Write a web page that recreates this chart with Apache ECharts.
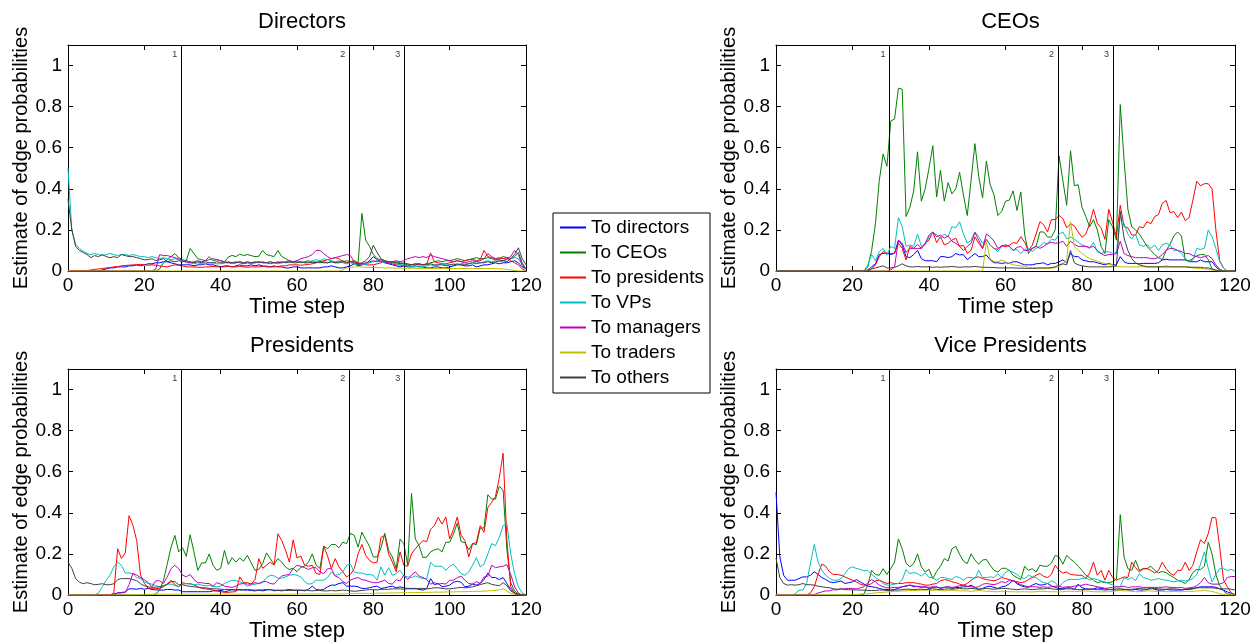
<!DOCTYPE html>
<html>
<head>
<meta charset="utf-8">
<script src="https://cdn.jsdelivr.net/npm/echarts@6/dist/echarts.min.js"></script>
<style>
  html, body { margin: 0; padding: 0; background: #fff; }
  #chart { width: 1258px; height: 644px; }
</style>
</head>
<body>
<div id="chart"></div>
<script>
// ---- data: one value per time step, t = 0..120 ----
const seriesNames = ['To directors', 'To CEOs', 'To presidents', 'To VPs', 'To managers', 'To traders', 'To others'];
const panelTitles = ['Directors', 'CEOs', 'Presidents', 'Vice Presidents'];
const xTicks = [0, 20, 40, 60, 80, 100, 120];
const eventSteps = [29.7, 73.7, 88.1];
const eventLabels = ['1', '2', '3'];

// Directors
const dirBlue = [0,0,0,0,0,0,0,0,0,0.005,
  0.01,0.015,0.015,0.02,0.02,0.02,0.025,0.025,0.03,0.025,
  0.03,0.035,0.035,0.04,0.04,0.045,0.045,0.04,0.035,0.03,
  0.03,0.03,0.03,0.025,0.03,0.03,0.035,0.03,0.03,0.025,
  0.02,0.025,0.025,0.02,0.025,0.03,0.025,0.025,0.03,0.025,
  0.03,0.025,0.02,0.02,0.025,0.02,0.02,0.015,0.015,0.02,
  0.02,0.015,0.015,0.015,0.015,0.015,0.015,0.02,0.02,0.025,
  0.02,0.015,0.015,0.02,0.025,0.035,0.025,0.03,0.035,0.05,
  0.07,0.055,0.045,0.04,0.035,0.03,0.025,0.02,0.025,0.02,
  0.02,0.025,0.02,0.02,0.015,0.015,0.02,0.02,0.015,0.015,
  0.02,0.025,0.03,0.03,0.025,0.025,0.03,0.02,0.025,0.03,
  0.03,0.035,0.04,0.035,0.04,0.04,0.045,0.05,0.04,0.02,
  0.01];
const dirGreen = [0,0,0,0,0,0,0,0,0,0,
  0,0,0,0,0,0,0,0,0,0,
  0,0,0,0,0.01,0.04,0.055,0.07,0.085,0.065,
  0.055,0.05,0.11,0.085,0.06,0.055,0.05,0.07,0.05,0.055,
  0.05,0.045,0.068,0.076,0.07,0.082,0.075,0.08,0.075,0.07,
  0.072,0.1,0.08,0.075,0.07,0.1,0.07,0.06,0.05,0.045,
  0.045,0.04,0.045,0.05,0.04,0.045,0.04,0.045,0.04,0.045,
  0.04,0.045,0.05,0.04,0.045,0.05,0.035,0.28,0.15,0.12,
  0.08,0.06,0.055,0.05,0.045,0.04,0.045,0.04,0.035,0.03,
  0.03,0.035,0.035,0.03,0.035,0.04,0.045,0.05,0.045,0.05,
  0.05,0.055,0.06,0.055,0.05,0.055,0.06,0.065,0.06,0.06,
  0.065,0.06,0.055,0.06,0.07,0.065,0.06,0.07,0.09,0.04,
  0.01];
const dirRed = [0,0,0,0,0,0.002,0.005,0.008,0.01,0.012,
  0.015,0.017,0.02,0.022,0.025,0.027,0.028,0.03,0.03,0.032,
  0.03,0.028,0.03,0.028,0.025,0.022,0.02,0.025,0.03,0.028,
  0.025,0.02,0.02,0.02,0.018,0.018,0.02,0.02,0.022,0.02,
  0.02,0.02,0.022,0.02,0.02,0.022,0.02,0.018,0.02,0.02,
  0.02,0.022,0.025,0.02,0.02,0.022,0.025,0.025,0.03,0.03,
  0.03,0.028,0.03,0.032,0.035,0.04,0.045,0.05,0.055,0.06,
  0.065,0.06,0.045,0.04,0.045,0.05,0.04,0.035,0.03,0.03,
  0.03,0.035,0.04,0.045,0.04,0.035,0.03,0.03,0.025,0.025,
  0.03,0.035,0.03,0.03,0.035,0.088,0.045,0.04,0.035,0.035,
  0.04,0.045,0.05,0.045,0.05,0.055,0.057,0.05,0.055,0.1,
  0.07,0.065,0.06,0.065,0.06,0.065,0.05,0.04,0.03,0.01,
  0];
const dirCyan = [0.5,0.2,0.13,0.11,0.095,0.085,0.08,0.085,0.08,0.075,
  0.08,0.085,0.08,0.075,0.08,0.08,0.075,0.08,0.075,0.07,
  0.07,0.065,0.07,0.065,0.06,0.065,0.06,0.055,0.06,0.055,
  0.05,0.04,0.04,0.035,0.04,0.035,0.035,0.04,0.04,0.035,
  0.035,0.04,0.04,0.035,0.04,0.045,0.04,0.04,0.035,0.04,
  0.045,0.04,0.04,0.045,0.04,0.035,0.04,0.045,0.04,0.045,
  0.05,0.045,0.04,0.045,0.05,0.055,0.05,0.06,0.055,0.05,
  0.045,0.05,0.04,0.035,0.04,0.035,0.03,0.035,0.03,0.04,
  0.045,0.05,0.045,0.04,0.045,0.04,0.035,0.03,0.03,0.025,
  0.02,0.02,0.025,0.02,0.025,0.03,0.025,0.03,0.035,0.03,
  0.03,0.035,0.03,0.035,0.04,0.035,0.04,0.045,0.04,0.045,
  0.05,0.045,0.05,0.045,0.05,0.055,0.06,0.065,0.06,0.03,
  0.01];
const dirMagenta = [0,0,0,0,0,0,0,0,0,0,
  0,0,0,0,0,0,0,0,0,0,
  0,0,0,0.01,0.08,0.075,0.075,0.07,0.065,0.06,
  0.05,0.045,0.04,0.045,0.05,0.045,0.05,0.055,0.06,0.055,
  0.05,0.045,0.04,0.04,0.045,0.04,0.035,0.04,0.04,0.045,
  0.04,0.045,0.04,0.035,0.04,0.045,0.04,0.045,0.05,0.045,
  0.05,0.06,0.065,0.07,0.08,0.1,0.1,0.085,0.07,0.06,
  0.065,0.07,0.075,0.08,0.075,0.045,0.03,0.035,0.04,0.045,
  0.05,0.045,0.05,0.045,0.04,0.045,0.05,0.045,0.05,0.06,
  0.065,0.07,0.065,0.07,0.065,0.077,0.07,0.065,0.06,0.055,
  0.05,0.045,0.05,0.045,0.04,0.045,0.05,0.045,0.05,0.06,
  0.085,0.07,0.06,0.055,0.05,0.06,0.07,0.1,0.08,0.03,
  0.01];
const dirYellow = [0,0,0,0,0,0,0,0,0,0,
  0,0,0,0,0,0,0,0,0,0,
  0,0,0,0,0,0,0,0,0,0,
  0,0,0,0,0,0,0,0,0,0,
  0,0,0,0,0,0,0,0,0,0,
  0,0,0,0,0,0,0,0,0,0,
  0,0,0,0,0,0,0,0,0,0,
  0,0,0.005,0.015,0.018,0.02,0.02,0.02,0.018,0.018,
  0.017,0.017,0.016,0.015,0.015,0.015,0.014,0.014,0.014,0.013,
  0.013,0.013,0.012,0.012,0.012,0.012,0.012,0.012,0.012,0.012,
  0.012,0.012,0.012,0.012,0.012,0.012,0.012,0.012,0.012,0.012,
  0.012,0.012,0.012,0.01,0.01,0.008,0.005,0.002,0,0,
  0];
const dirBlack = [0.35,0.2,0.12,0.1,0.09,0.08,0.065,0.075,0.07,0.08,
  0.07,0.065,0.07,0.065,0.08,0.075,0.07,0.07,0.065,0.06,
  0.055,0.055,0.06,0.05,0.055,0.06,0.045,0.05,0.045,0.05,
  0.045,0.05,0.045,0.04,0.045,0.04,0.045,0.04,0.04,0.045,
  0.04,0.04,0.045,0.04,0.04,0.045,0.04,0.045,0.04,0.04,
  0.045,0.04,0.04,0.045,0.04,0.04,0.045,0.04,0.045,0.04,
  0.04,0.045,0.04,0.04,0.045,0.04,0.045,0.04,0.04,0.045,
  0.04,0.04,0.045,0.05,0.045,0.04,0.035,0.04,0.05,0.07,
  0.125,0.09,0.06,0.05,0.045,0.045,0.04,0.035,0.04,0.035,
  0.03,0.03,0.035,0.03,0.03,0.035,0.03,0.03,0.03,0.025,
  0.03,0.03,0.035,0.03,0.03,0.035,0.04,0.035,0.04,0.04,
  0.045,0.04,0.045,0.05,0.05,0.045,0.06,0.08,0.113,0.06,
  0.03];

// CEOs
const ceoBlue = [0,0,0,0,0,0,0,0,0,0,
  0,0,0,0,0,0,0,0,0,0,
  0,0,0,0,0.005,0.02,0.035,0.08,0.086,0.086,
  0.08,0.086,0.15,0.125,0.07,0.065,0.08,0.1,0.06,0.05,
  0.05,0.05,0.045,0.07,0.07,0.065,0.07,0.085,0.078,0.08,
  0.055,0.07,0.085,0.07,0.07,0.078,0.054,0.04,0.04,0.037,
  0.04,0.037,0.045,0.045,0.037,0.03,0.03,0.03,0.035,0.037,
  0.04,0.03,0.037,0.037,0.045,0.054,0.04,0.086,0.07,0.07,
  0.054,0.05,0.045,0.045,0.04,0.035,0.03,0.037,0.03,0.03,
  0.07,0.045,0.037,0.037,0.037,0.035,0.037,0.037,0.037,0.037,
  0.04,0.054,0.057,0.054,0.054,0.054,0.054,0.054,0.045,0.045,
  0.045,0.054,0.045,0.045,0.045,0.02,0.005,0,0,0,
  0];
const ceoGreen = [0,0,0,0,0,0,0,0,0,0,
  0,0,0,0,0,0,0,0,0,0,
  0,0,0,0,0.02,0.1,0.23,0.44,0.57,0.51,
  0.73,0.74,0.89,0.885,0.265,0.31,0.39,0.58,0.34,0.4,
  0.5,0.61,0.36,0.49,0.34,0.43,0.375,0.4,0.48,0.37,
  0.27,0.44,0.62,0.46,0.355,0.535,0.42,0.37,0.27,0.29,
  0.34,0.345,0.39,0.295,0.385,0.18,0.085,0.11,0.12,0.19,
  0.19,0.165,0.165,0.2,0.56,0.44,0.32,0.585,0.415,0.42,
  0.31,0.265,0.215,0.25,0.2,0.12,0.085,0.25,0.215,0.15,
  0.81,0.54,0.3,0.215,0.2,0.18,0.15,0.12,0.1,0.08,
  0.065,0.055,0.1,0.13,0.17,0.19,0.17,0.055,0.05,0.06,
  0.075,0.08,0.08,0.055,0.01,0,0,0,0,0,
  0];
const ceoRed = [0,0,0,0,0,0,0,0,0,0,
  0,0,0,0,0,0,0,0,0,0,
  0,0,0,0,0,0.01,0.03,0.07,0.095,0.087,
  0.085,0.087,0.135,0.11,0.054,0.12,0.11,0.13,0.11,0.135,
  0.15,0.19,0.138,0.167,0.127,0.135,0.15,0.16,0.12,0.125,
  0.086,0.1,0.166,0.135,0.11,0.155,0.125,0.11,0.105,0.125,
  0.118,0.125,0.138,0.135,0.167,0.14,0.1,0.125,0.18,0.24,
  0.225,0.19,0.25,0.25,0.27,0.255,0.21,0.23,0.22,0.19,
  0.164,0.18,0.23,0.3,0.232,0.21,0.154,0.3,0.236,0.167,
  0.32,0.216,0.21,0.175,0.175,0.216,0.21,0.24,0.23,0.265,
  0.275,0.33,0.343,0.284,0.289,0.26,0.287,0.245,0.26,0.346,
  0.437,0.415,0.425,0.425,0.4,0.2,0.05,0.015,0,0,
  0];
const ceoCyan = [0,0,0,0,0,0,0,0,0,0,
  0,0,0,0,0,0,0,0,0,0,
  0,0,0,0,0.03,0.08,0.05,0.094,0.11,0.077,
  0.12,0.11,0.26,0.216,0.12,0.127,0.12,0.18,0.12,0.127,
  0.164,0.187,0.176,0.16,0.18,0.167,0.216,0.21,0.24,0.18,
  0.135,0.15,0.19,0.167,0.135,0.155,0.125,0.11,0.095,0.12,
  0.127,0.12,0.1,0.105,0.085,0.105,0.11,0.095,0.11,0.12,
  0.138,0.13,0.155,0.15,0.18,0.19,0.157,0.165,0.155,0.14,
  0.127,0.12,0.11,0.14,0.094,0.085,0.094,0.094,0.086,0.09,
  0.27,0.23,0.18,0.155,0.18,0.127,0.12,0.13,0.11,0.127,
  0.1,0.127,0.135,0.127,0.1,0.1,0.086,0.06,0.045,0.054,
  0.11,0.105,0.11,0.2,0.167,0.11,0.045,0.015,0,0,
  0];
const ceoMagenta = [0,0,0,0,0,0,0,0,0,0,
  0,0,0,0,0,0,0,0,0,0,
  0,0,0,0,0,0,0,0,0,0,
  0.005,0.02,0.15,0.135,0.09,0.11,0.11,0.11,0.11,0.135,
  0.175,0.19,0.167,0.175,0.16,0.17,0.145,0.135,0.12,0.1,
  0.12,0.135,0.187,0.15,0.11,0.18,0.167,0.145,0.11,0.12,
  0.127,0.12,0.1,0.115,0.12,0.1,0.1,0.11,0.12,0.11,
  0.12,0.135,0.14,0.135,0.137,0.145,0.12,0.145,0.13,0.12,
  0.12,0.12,0.115,0.12,0.1,0.085,0.075,0.08,0.08,0.085,
  0.145,0.085,0.075,0.07,0.065,0.065,0.065,0.065,0.06,0.06,
  0.065,0.08,0.1,0.11,0.11,0.1,0.095,0.085,0.085,0.075,
  0.07,0.065,0.07,0.075,0.06,0.03,0.01,0,0,0,
  0];
const ceoYellow = [0,0,0,0,0,0,0,0,0,0,
  0,0,0,0,0,0,0,0,0,0,
  0,0,0,0,0,0,0,0,0,0,
  0,0,0,0,0,0,0,0,0,0,
  0,0,0,0,0,0,0,0,0,0,
  0,0,0,0,0,0.14,0.06,0.045,0.045,0.054,
  0.045,0.037,0.03,0.027,0.025,0.022,0.017,0.015,0.015,0.014,
  0.013,0.013,0.013,0.017,0.021,0.035,0.054,0.24,0.12,0.1,
  0.086,0.072,0.06,0.054,0.048,0.04,0.037,0.033,0.03,0.021,
  0.021,0.02,0.02,0.02,0.02,0.021,0.021,0.021,0.021,0.021,
  0.021,0.022,0.025,0.022,0.021,0.021,0.021,0.021,0.021,0.015,
  0.013,0.013,0.01,0.008,0.005,0.002,0,0,0,0,
  0];
const ceoBlack = [0,0,0,0,0,0,0,0,0,0,
  0,0,0,0,0,0,0,0,0,0,
  0,0,0,0,0,0.01,0.015,0.02,0.025,0.015,
  0.015,0.018,0.025,0.035,0.025,0.02,0.02,0.022,0.02,0.02,
  0.02,0.018,0.02,0.018,0.02,0.02,0.022,0.02,0.018,0.02,
  0.02,0.02,0.022,0.02,0.018,0.018,0.017,0.017,0.015,0.015,
  0.015,0.015,0.015,0.014,0.014,0.013,0.013,0.013,0.013,0.015,
  0.015,0.015,0.017,0.02,0.03,0.035,0.03,0.1,0.04,0.03,
  0.025,0.022,0.02,0.02,0.02,0.02,0.02,0.02,0.022,0.025,
  0.29,0.16,0.1,0.06,0.04,0.03,0.025,0.02,0.02,0.02,
  0.02,0.02,0.02,0.02,0.02,0.02,0.02,0.02,0.018,0.018,
  0.018,0.018,0.015,0.015,0.01,0.005,0,0,0,0,
  0];

// Presidents
const presBlue = [0,0,0,0,0,0,0,0,0,0,
  0,0,0.005,0.01,0.012,0.015,0.03,0.03,0.028,0.032,
  0.028,0.032,0.027,0.025,0.024,0.024,0.027,0.027,0.024,0.024,
  0.016,0.016,0.016,0.016,0.016,0.016,0.016,0.016,0.02,0.02,
  0.024,0.016,0.02,0.027,0.024,0.027,0.024,0.024,0.022,0.02,
  0.024,0.02,0.024,0.027,0.02,0.024,0.02,0.024,0.027,0.024,
  0.024,0.024,0.02,0.027,0.043,0.027,0.024,0.027,0.04,0.048,
  0.048,0.056,0.06,0.043,0.043,0.043,0.04,0.032,0.032,0.035,
  0.04,0.043,0.032,0.035,0.04,0.043,0.035,0.04,0.035,0.032,
  0.032,0.032,0.027,0.024,0.032,0.08,0.05,0.056,0.04,0.043,
  0.048,0.062,0.067,0.062,0.04,0.043,0.053,0.048,0.056,0.075,
  0.107,0.085,0.085,0.075,0.085,0.056,0.027,0.01,0.003,0,
  0];
const presGreen = [0,0,0,0,0,0,0,0,0,0,
  0,0,0,0,0,0,0,0,0,0,
  0,0,0,0.005,0.025,0.07,0.15,0.233,0.29,0.21,
  0.23,0.188,0.293,0.21,0.12,0.156,0.156,0.2,0.145,0.12,
  0.13,0.217,0.149,0.182,0.16,0.18,0.165,0.193,0.156,0.12,
  0.125,0.153,0.205,0.177,0.15,0.177,0.16,0.136,0.124,0.13,
  0.113,0.135,0.14,0.16,0.2,0.145,0.13,0.237,0.225,0.246,
  0.246,0.23,0.257,0.25,0.3,0.29,0.233,0.306,0.27,0.237,
  0.185,0.185,0.23,0.3,0.217,0.185,0.128,0.272,0.25,0.145,
  0.494,0.273,0.24,0.182,0.185,0.21,0.22,0.225,0.21,0.257,
  0.257,0.297,0.35,0.26,0.255,0.22,0.25,0.245,0.326,0.326,
  0.488,0.467,0.467,0.53,0.51,0.22,0.06,0.02,0.005,0,
  0];
const presRed = [0,0,0,0,0,0,0,0,0,0,
  0,0,0.01,0.225,0.178,0.205,0.386,0.34,0.265,0.097,
  0.057,0.033,0.03,0.03,0.033,0.04,0.053,0.072,0.05,0.04,
  0.06,0.055,0.055,0.05,0.04,0.033,0.03,0.027,0.024,0.02,
  0.016,0.013,0.013,0.015,0.016,0.088,0.06,0.06,0.053,0.075,
  0.177,0.13,0.145,0.16,0.145,0.298,0.265,0.217,0.16,0.268,
  0.18,0.19,0.145,0.14,0.145,0.105,0.1,0.237,0.19,0.128,
  0.177,0.137,0.113,0.088,0.1,0.128,0.2,0.246,0.193,0.168,
  0.156,0.16,0.28,0.29,0.2,0.16,0.113,0.21,0.145,0.14,
  0.2,0.225,0.245,0.265,0.26,0.32,0.338,0.378,0.345,0.38,
  0.273,0.32,0.38,0.29,0.265,0.185,0.25,0.255,0.337,0.305,
  0.426,0.45,0.48,0.57,0.69,0.265,0.04,0.01,0,0,
  0];
const presCyan = [0,0,0,0,0,0,0,0,0.01,0.04,
  0.072,0.096,0.137,0.16,0.145,0.107,0.107,0.104,0.085,0.08,
  0.065,0.056,0.053,0.045,0.04,0.043,0.053,0.053,0.046,0.04,
  0.053,0.056,0.053,0.05,0.053,0.048,0.045,0.046,0.043,0.04,
  0.043,0.056,0.065,0.072,0.069,0.065,0.056,0.043,0.048,0.053,
  0.056,0.06,0.085,0.096,0.093,0.082,0.082,0.088,0.096,0.1,
  0.096,0.088,0.065,0.053,0.056,0.072,0.072,0.072,0.085,0.112,
  0.096,0.1,0.112,0.145,0.15,0.112,0.107,0.107,0.1,0.1,
  0.096,0.072,0.137,0.096,0.133,0.096,0.104,0.12,0.093,0.088,
  0.085,0.093,0.085,0.08,0.08,0.16,0.14,0.14,0.14,0.12,
  0.14,0.15,0.128,0.104,0.096,0.112,0.145,0.182,0.137,0.15,
  0.2,0.25,0.24,0.281,0.338,0.346,0.2,0.104,0.04,0.01,
  0];
const presMagenta = [0,0,0,0,0,0,0,0,0,0,
  0,0,0,0.01,0.01,0.012,0.05,0.105,0.097,0.085,
  0.075,0.06,0.04,0.069,0.069,0.056,0.088,0.128,0.145,0.128,
  0.097,0.088,0.1,0.075,0.06,0.06,0.056,0.056,0.043,0.06,
  0.053,0.043,0.04,0.037,0.043,0.053,0.056,0.053,0.053,0.06,
  0.056,0.065,0.065,0.056,0.053,0.075,0.092,0.097,0.1,0.128,
  0.145,0.14,0.133,0.124,0.133,0.133,0.112,0.104,0.128,0.128,
  0.092,0.085,0.065,0.056,0.072,0.08,0.085,0.075,0.072,0.065,
  0.06,0.06,0.065,0.072,0.056,0.053,0.075,0.068,0.097,0.075,
  0.097,0.113,0.092,0.085,0.075,0.053,0.06,0.053,0.056,0.053,
  0.072,0.072,0.085,0.092,0.072,0.056,0.053,0.065,0.056,0.088,
  0.092,0.145,0.133,0.137,0.14,0.148,0.1,0.04,0.01,0,
  0];
const presYellow = [0,0,0,0,0,0,0,0,0,0,
  0,0,0,0,0,0,0,0,0,0,
  0.002,0.003,0.003,0.003,0.004,0.004,0.004,0.004,0.004,0.004,
  0.004,0.004,0.004,0.004,0.004,0.004,0.004,0.004,0.004,0.004,
  0.004,0.004,0.004,0.004,0.004,0.004,0.004,0.004,0.004,0.004,
  0.004,0.004,0.004,0.004,0.004,0.004,0.004,0.004,0.004,0.004,
  0.005,0.005,0.005,0.005,0.005,0.005,0.005,0.005,0.005,0.005,
  0.005,0.005,0.006,0.006,0.007,0.007,0.008,0.008,0.008,0.008,
  0.008,0.009,0.009,0.009,0.01,0.01,0.01,0.011,0.011,0.011,
  0.012,0.012,0.012,0.013,0.013,0.013,0.014,0.014,0.014,0.015,
  0.015,0.015,0.016,0.016,0.016,0.017,0.017,0.018,0.018,0.019,
  0.02,0.022,0.022,0.025,0.03,0.02,0.008,0.002,0,0,
  0];
const presBlack = [0.16,0.13,0.08,0.062,0.055,0.06,0.055,0.05,0.052,0.055,
  0.05,0.05,0.055,0.075,0.08,0.08,0.08,0.075,0.07,0.055,
  0.045,0.04,0.037,0.038,0.04,0.045,0.052,0.065,0.065,0.05,
  0.05,0.045,0.042,0.04,0.038,0.035,0.035,0.032,0.03,0.03,
  0.028,0.027,0.027,0.025,0.025,0.024,0.025,0.027,0.025,0.024,
  0.024,0.025,0.027,0.025,0.024,0.022,0.024,0.022,0.022,0.022,
  0.022,0.022,0.024,0.022,0.02,0.022,0.022,0.02,0.02,0.022,
  0.02,0.022,0.024,0.022,0.02,0.018,0.02,0.022,0.024,0.026,
  0.026,0.025,0.027,0.028,0.028,0.03,0.03,0.03,0.028,0.03,
  0.03,0.03,0.032,0.032,0.03,0.032,0.035,0.035,0.032,0.03,
  0.03,0.032,0.035,0.037,0.035,0.037,0.04,0.045,0.05,0.056,
  0.06,0.052,0.048,0.045,0.06,0.045,0.02,0.008,0.002,0,
  0];

// Vice Presidents
const vpBlue = [0.5,0.186,0.096,0.072,0.072,0.072,0.08,0.088,0.088,0.096,
  0.113,0.1,0.085,0.075,0.064,0.06,0.064,0.068,0.056,0.06,
  0.064,0.075,0.064,0.053,0.043,0.04,0.037,0.032,0.027,0.027,
  0.024,0.027,0.032,0.04,0.043,0.048,0.04,0.043,0.037,0.04,
  0.032,0.037,0.04,0.032,0.037,0.04,0.032,0.037,0.037,0.04,
  0.04,0.048,0.037,0.027,0.032,0.04,0.043,0.037,0.032,0.04,
  0.043,0.055,0.072,0.055,0.045,0.04,0.037,0.048,0.056,0.048,
  0.05,0.056,0.045,0.037,0.032,0.03,0.035,0.035,0.027,0.053,
  0.035,0.03,0.027,0.03,0.035,0.032,0.03,0.027,0.025,0.024,
  0.024,0.027,0.025,0.024,0.027,0.024,0.024,0.027,0.035,0.027,
  0.024,0.024,0.027,0.025,0.024,0.024,0.024,0.027,0.027,0.03,
  0.035,0.04,0.04,0.04,0.04,0.037,0.03,0.024,0.015,0.008,
  0.002];
const vpGreen = [0,0,0,0,0,0,0,0,0,0,
  0,0,0,0,0,0,0,0,0,0,
  0,0,0,0.005,0.05,0.12,0.1,0.096,0.128,0.1,
  0.128,0.16,0.273,0.225,0.155,0.137,0.153,0.2,0.137,0.112,
  0.125,0.08,0.115,0.14,0.177,0.166,0.225,0.237,0.198,0.165,
  0.153,0.2,0.17,0.15,0.17,0.173,0.145,0.12,0.112,0.13,
  0.13,0.12,0.096,0.085,0.075,0.14,0.12,0.128,0.112,0.145,
  0.14,0.14,0.155,0.193,0.185,0.15,0.193,0.175,0.16,0.14,
  0.12,0.096,0.085,0.072,0.06,0.065,0.06,0.06,0.065,0.077,
  0.391,0.185,0.128,0.12,0.169,0.12,0.128,0.128,0.14,0.12,
  0.108,0.115,0.108,0.096,0.085,0.072,0.065,0.056,0.075,0.11,
  0.124,0.124,0.14,0.257,0.2,0.1,0.045,0.02,0.005,0,
  0];
const vpRed = [0,0,0,0,0,0,0,0,0,0.01,
  0.04,0.1,0.151,0.14,0.112,0.1,0.1,0.096,0.088,0.08,
  0.072,0.064,0.053,0.048,0.048,0.056,0.069,0.072,0.064,0.056,
  0.06,0.056,0.056,0.056,0.06,0.06,0.06,0.056,0.053,0.048,
  0.048,0.053,0.056,0.069,0.075,0.072,0.064,0.06,0.053,0.048,
  0.056,0.072,0.085,0.088,0.08,0.075,0.072,0.069,0.075,0.085,
  0.08,0.075,0.069,0.065,0.06,0.064,0.075,0.085,0.096,0.105,
  0.09,0.085,0.1,0.145,0.12,0.107,0.112,0.1,0.098,0.096,
  0.096,0.08,0.107,0.16,0.096,0.12,0.072,0.12,0.085,0.072,
  0.08,0.088,0.085,0.16,0.133,0.112,0.128,0.128,0.12,0.107,
  0.12,0.16,0.128,0.107,0.096,0.12,0.12,0.16,0.12,0.145,
  0.21,0.269,0.25,0.298,0.378,0.375,0.233,0.072,0.04,0.01,
  0];
const vpCyan = [0,0,0,0,0,0.005,0.024,0.024,0.056,0.154,
  0.246,0.16,0.12,0.096,0.08,0.072,0.072,0.08,0.104,0.129,
  0.137,0.129,0.125,0.118,0.12,0.1,0.085,0.072,0.056,0.048,
  0.048,0.053,0.056,0.075,0.124,0.104,0.11,0.104,0.092,0.108,
  0.085,0.085,0.072,0.085,0.085,0.08,0.075,0.09,0.085,0.072,
  0.085,0.085,0.08,0.12,0.085,0.085,0.088,0.085,0.104,0.085,
  0.11,0.12,0.11,0.1,0.085,0.08,0.096,0.088,0.085,0.07,
  0.06,0.056,0.07,0.06,0.04,0.06,0.072,0.076,0.076,0.076,
  0.08,0.085,0.072,0.08,0.075,0.068,0.064,0.056,0.048,0.04,
  0.04,0.085,0.075,0.085,0.07,0.104,0.085,0.08,0.072,0.075,
  0.08,0.075,0.072,0.068,0.064,0.068,0.072,0.068,0.072,0.08,
  0.1,0.15,0.21,0.13,0.064,0.1,0.128,0.128,0.12,0.125,
  0.115];
const vpMagenta = [0,0,0,0,0,0,0,0,0,0,
  0.002,0.01,0.015,0.02,0.02,0.026,0.025,0.03,0.03,0.032,
  0.032,0.03,0.035,0.04,0.06,0.075,0.064,0.048,0.04,0.035,
  0.035,0.037,0.037,0.04,0.045,0.048,0.045,0.04,0.04,0.04,
  0.037,0.04,0.037,0.035,0.037,0.04,0.037,0.04,0.045,0.048,
  0.043,0.04,0.037,0.04,0.052,0.056,0.053,0.05,0.056,0.065,
  0.06,0.07,0.068,0.06,0.05,0.045,0.04,0.04,0.04,0.037,
  0.04,0.037,0.04,0.043,0.043,0.037,0.04,0.04,0.043,0.045,
  0.048,0.053,0.048,0.045,0.04,0.037,0.032,0.035,0.037,0.04,
  0.04,0.043,0.035,0.04,0.04,0.04,0.037,0.037,0.037,0.037,
  0.037,0.037,0.04,0.037,0.037,0.035,0.037,0.032,0.035,0.037,
  0.045,0.06,0.085,0.06,0.053,0.053,0.053,0.06,0.085,0.09,
  0.09];
const vpYellow = [0,0,0,0,0,0,0,0,0,0,
  0,0,0,0,0,0,0,0,0,0,
  0.002,0.003,0.004,0.005,0.006,0.008,0.01,0.012,0.013,0.015,
  0.016,0.018,0.018,0.02,0.02,0.022,0.022,0.022,0.024,0.024,
  0.024,0.022,0.024,0.022,0.02,0.022,0.024,0.022,0.02,0.02,
  0.02,0.018,0.02,0.022,0.02,0.018,0.018,0.016,0.016,0.018,
  0.018,0.016,0.016,0.015,0.016,0.016,0.015,0.015,0.016,0.018,
  0.018,0.016,0.016,0.016,0.015,0.016,0.018,0.018,0.016,0.018,
  0.018,0.02,0.018,0.016,0.016,0.015,0.016,0.016,0.018,0.02,
  0.022,0.02,0.02,0.018,0.016,0.016,0.018,0.02,0.02,0.018,
  0.018,0.018,0.016,0.016,0.018,0.016,0.016,0.018,0.018,0.018,
  0.02,0.02,0.022,0.02,0.018,0.012,0.006,0.002,0,0,
  0];
const vpBlack = [0.18,0.085,0.056,0.048,0.05,0.048,0.05,0.056,0.05,0.05,
  0.048,0.043,0.04,0.037,0.035,0.03,0.028,0.03,0.026,0.026,
  0.025,0.025,0.024,0.024,0.022,0.022,0.022,0.024,0.024,0.022,
  0.022,0.024,0.024,0.026,0.028,0.028,0.026,0.028,0.028,0.026,
  0.028,0.03,0.028,0.026,0.028,0.03,0.028,0.03,0.032,0.03,
  0.03,0.032,0.03,0.028,0.03,0.032,0.03,0.028,0.03,0.032,
  0.032,0.03,0.028,0.026,0.028,0.03,0.028,0.026,0.028,0.03,
  0.03,0.032,0.03,0.028,0.026,0.028,0.03,0.03,0.028,0.026,
  0.026,0.028,0.03,0.028,0.026,0.026,0.024,0.026,0.028,0.03,
  0.03,0.028,0.026,0.028,0.03,0.032,0.03,0.028,0.03,0.032,
  0.03,0.028,0.028,0.03,0.03,0.028,0.026,0.028,0.03,0.032,
  0.035,0.035,0.035,0.035,0.035,0.033,0.03,0.03,0.03,0.028,
  0.025];

// ---- presentation ----
const FONT = '"Liberation Sans", Arial, Helvetica, sans-serif';
const colors = ['#0000ff', '#008000', '#ff0000', '#00bfbf', '#bf00bf', '#bfbf00', '#404040'];

const panels = [
  { title: panelTitles[0], lines: { dirBlue, dirGreen, dirRed, dirCyan, dirMagenta, dirYellow, dirBlack } },
  { title: panelTitles[1], lines: { ceoBlue, ceoGreen, ceoRed, ceoCyan, ceoMagenta, ceoYellow, ceoBlack } },
  { title: panelTitles[2], lines: { presBlue, presGreen, presRed, presCyan, presMagenta, presYellow, presBlack } },
  { title: panelTitles[3], lines: { vpBlue, vpGreen, vpRed, vpCyan, vpMagenta, vpYellow, vpBlack } }
];

const layout = [
  { left: 68, top: 45, width: 458, height: 226, titleTop: 6, nameGap: 26 },
  { left: 776, top: 45, width: 459, height: 226, titleTop: 6, nameGap: 30 },
  { left: 68, top: 369, width: 458, height: 226, titleTop: 330, nameGap: 26 },
  { left: 776, top: 369, width: 459, height: 226, titleTop: 330, nameGap: 30 }
];

const black = '#000';
const tickStyle = { show: true, inside: true, length: 5, lineStyle: { color: black, width: 1 } };
const lineStyleAxis = { show: true, onZero: false, lineStyle: { color: black, width: 1 } };

const option = {
  animation: false,
  backgroundColor: '#fff',
  textStyle: { fontFamily: FONT },
  title: [],
  grid: [],
  xAxis: [],
  yAxis: [],
  series: [],
  legend: {
    data: seriesNames,
    orient: 'vertical',
    left: 553,
    top: 213,
    icon: 'rect',
    itemWidth: 26,
    itemHeight: 2,
    itemGap: 4,
    padding: [4, 6, 5, 7],
    borderColor: black,
    borderWidth: 1,
    borderRadius: 0,
    backgroundColor: '#fff',
    selectedMode: false,
    textStyle: { fontSize: 19, lineHeight: 21, color: black, fontFamily: FONT }
  }
};

panels.forEach((panel, g) => {
  const box = layout[g];
  option.grid.push({ left: box.left, top: box.top, width: box.width, height: box.height, outerBoundsMode: 'none' });
  option.title.push({
    text: panel.title,
    left: box.left + box.width / 2,
    top: box.titleTop,
    textAlign: 'center',
    textStyle: { fontSize: 22, fontWeight: 'normal', color: black, fontFamily: FONT }
  });

  const xBase = { type: 'value', gridIndex: g, min: xTicks[0], max: xTicks[xTicks.length - 1], interval: 20,
    splitLine: { show: false }, axisLine: lineStyleAxis, axisTick: tickStyle };
  option.xAxis.push(Object.assign({}, xBase, {
    position: 'bottom',
    axisLabel: { color: black, fontSize: 19, margin: 5, fontFamily: FONT },
    name: 'Time step', nameLocation: 'middle', nameGap: 23,
    nameTextStyle: { fontSize: 22, color: black, fontFamily: FONT }
  }));
  option.xAxis.push(Object.assign({}, xBase, { position: 'top', axisLabel: { show: false } }));

  const yBase = { type: 'value', gridIndex: g, min: 0, max: 1.1, interval: 0.2,
    splitLine: { show: false }, axisLine: lineStyleAxis, axisTick: tickStyle };
  option.yAxis.push(Object.assign({}, yBase, {
    position: 'left',
    axisLabel: { color: black, fontSize: 19, margin: 6, fontFamily: FONT, showMaxLabel: false },
    name: 'Estimate of edge probabilities', nameLocation: 'middle', nameGap: box.nameGap,
    nameTextStyle: { fontSize: 20, color: black, fontFamily: FONT }
  }));
  option.yAxis.push(Object.assign({}, yBase, { position: 'right', axisLabel: { show: false } }));

  Object.values(panel.lines).forEach((values, k) => {
    if (values.length !== 121) throw new Error(panel.title + ' series ' + k + ' has ' + values.length + ' values');
    option.series.push({
      type: 'line',
      name: seriesNames[k],
      xAxisIndex: 2 * g,
      yAxisIndex: 2 * g,
      data: values.map((v, t) => [t, v]),
      showSymbol: false,
      symbol: 'none',
      color: colors[k],
      lineStyle: { width: 1, color: colors[k] },
      emphasis: { disabled: true },
      z: 2 + k
    });
  });

  // event markers: vertical lines with small numbers near the top
  option.series.push({
    type: 'scatter',
    xAxisIndex: 2 * g,
    yAxisIndex: 2 * g,
    symbolSize: 0,
    silent: true,
    data: eventSteps.map((x, i) => ({ value: [x, 1.054], name: eventLabels[i] })),
    label: { show: true, position: 'left', distance: 4, formatter: '{b}', fontSize: 9, color: black, fontFamily: FONT },
    markLine: {
      silent: true,
      symbol: 'none',
      label: { show: false },
      lineStyle: { color: black, width: 1, type: 'solid' },
      data: eventSteps.map(x => ({ xAxis: x }))
    },
    z: 10
  });
});

const chart = echarts.init(document.getElementById('chart'), null, { renderer: 'canvas' });
chart.setOption(option);
</script>
</body>
</html>
